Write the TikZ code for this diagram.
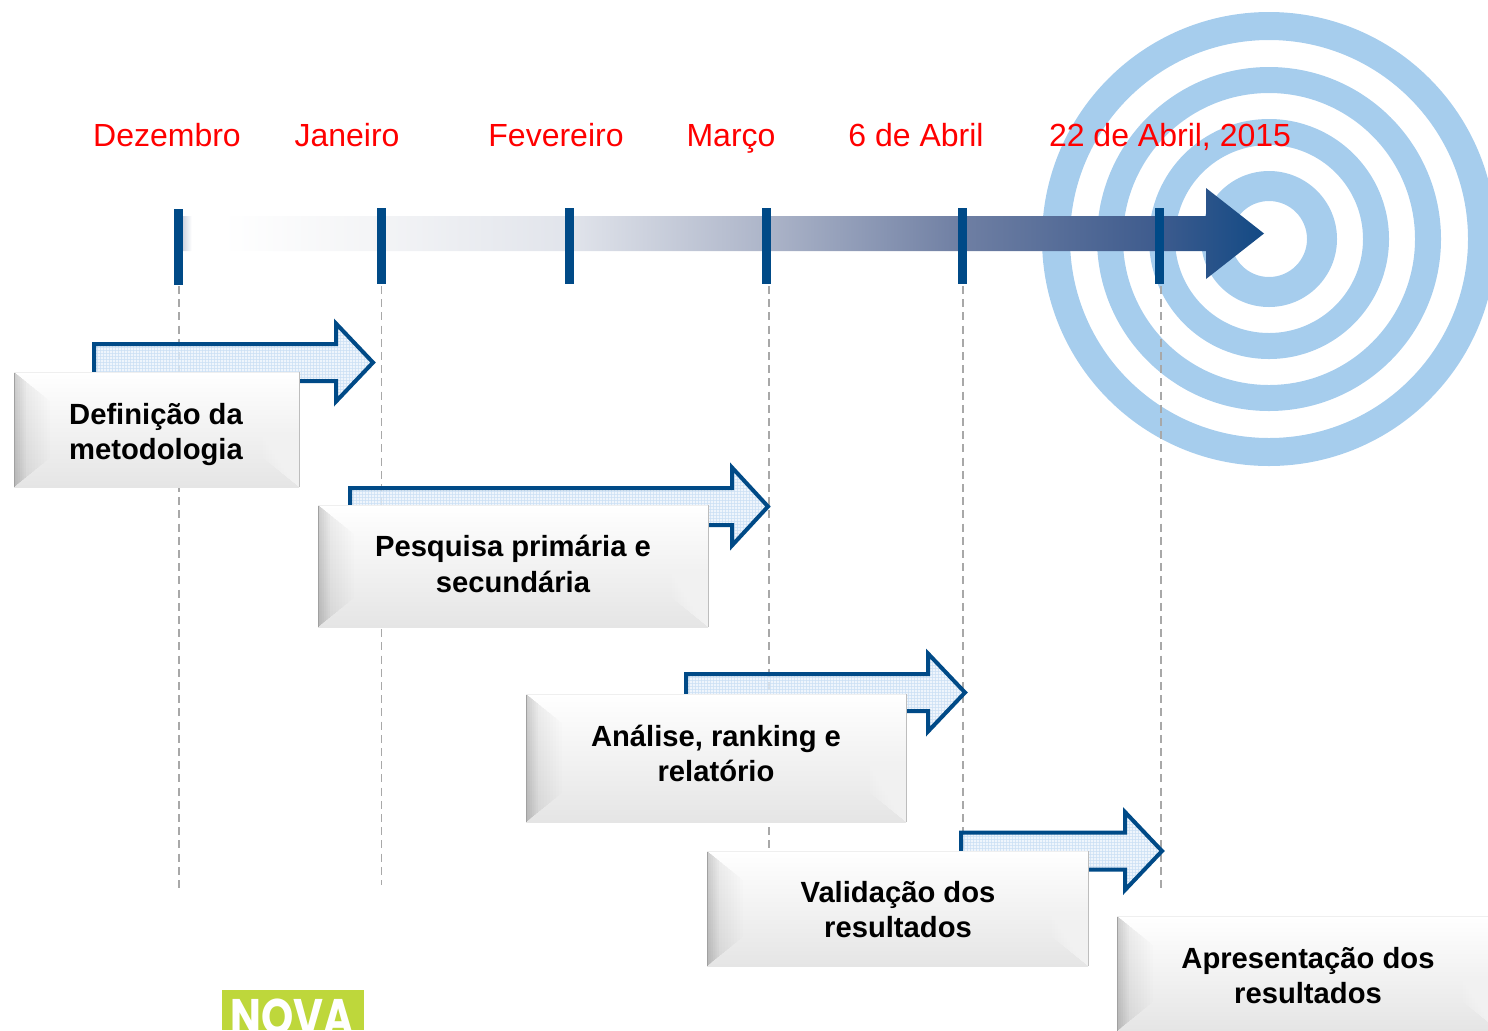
\documentclass[tikz,border=0pt]{standalone}
\usepackage{fontspec}
\setmainfont{Liberation Sans}
\newfontfamily\logofont{Poppins}
\usetikzlibrary{calc}
\definecolor{navy}{HTML}{004A87}
\definecolor{ringblue}{HTML}{A6CDED}
\definecolor{gridblue}{HTML}{CBE0F4}
\definecolor{paleblue}{HTML}{E9F2FB}
\definecolor{dashgrey}{HTML}{A8A8A8}
\definecolor{logogreen}{HTML}{BED73B}
\definecolor{fadeA}{HTML}{D0D5E0}
\definecolor{fadeB}{HTML}{F3F4F6}
\definecolor{fadeC}{HTML}{E1E4EB}
\definecolor{fadeD}{HTML}{ADB5C9}
\definecolor{fadeE}{HTML}{6F7FA3}
\definecolor{fadeF}{HTML}{3F5C8E}
\definecolor{fadeG}{HTML}{134A85}
\definecolor{gE5}{HTML}{E5E5E5}
\definecolor{gBD}{HTML}{BDBDBD}
\definecolor{gA9}{HTML}{A0A0A0}
\definecolor{gED}{HTML}{EFEFEF}
\pgfdeclarehorizontalshading{axisfade}{100bp}{
 color(0bp)=(fadeA);
 color(25bp)=(fadeA);
 color(25.4bp)=(white);
 color(26.8bp)=(white);
 color(34.1bp)=(fadeB);
 color(42.9bp)=(fadeC);
 color(51.9bp)=(fadeD);
 color(61bp)=(fadeE);
 color(69.9bp)=(fadeF);
 color(75bp)=(fadeG);
 color(100bp)=(fadeG)}
\tikzset{
 datelabel/.style={anchor=base,text=red,font=\fontsize{16}{18}\selectfont,inner sep=0pt},
 boxlabel/.style={align=center,inner sep=0pt,text=black,font=\fontsize{14.6}{17.6}\selectfont\bfseries},
 tickmark/.style={fill=navy,draw=none,inner sep=0pt,minimum width=4.5pt,minimum height=38pt},
 guide/.style={draw=dashgrey,line width=0.95pt,dash pattern=on 4pt off 2.6pt},
 ring/.style={fill=ringblue,draw=none,even odd rule},
}
% #1 left, #2 head base x, #3 tip x, #4 centre y
\newcommand{\hollowarrow}[4]{%
 \def\arrowpath{(#1,#4-18.5) -- (#2,#4-18.5) -- (#2,#4-39) -- (#3,#4) -- (#2,#4+39) -- (#2,#4+18.5) -- (#1,#4+18.5) -- cycle}%
 \begin{scope}
  \fill[paleblue,fill opacity=0.75] \arrowpath;
  \clip \arrowpath;
  \foreach \gx in {0,3,...,480} \draw[gridblue,line width=0.35pt,opacity=0.75] (#1+\gx,#4-40) -- (#1+\gx,#4+40);
  \foreach \gy in {-39,-36,...,39} \draw[gridblue,line width=0.35pt,opacity=0.75] (#1,#4+\gy) -- (#3,#4+\gy);
 \end{scope}
 \draw[navy,line width=2pt,miter limit=10] \arrowpath;
}
% #1 x1, #2 y1, #3 x2, #4 y2
\newcommand{\bevelbox}[4]{%
 \shade[top color=white,bottom color=gE5] (#1,#2) rectangle (#3,#4);
 \begin{scope}
  \clip (#1,#2) -- (#1+36,#2+29) -- (#1+36,#4-29) -- (#1,#4) -- cycle;
  \foreach \k in {1,...,12} \fill[black,fill opacity=0.009] (#1,#2) rectangle (#1+3*\k,#4);
  \foreach \k in {1,...,6} \fill[black,fill opacity=0.016] (#1,#2) rectangle (#1+2*\k,#4);
 \end{scope}
 \begin{scope}
  \clip (#3,#2) -- (#3-36,#2+29) -- (#3-36,#4-29) -- (#3,#4) -- cycle;
  \foreach \k in {1,...,12} \fill[white,fill opacity=0.07] (#3-3*\k,#2) rectangle (#3,#4);
 \end{scope}
 \draw[gA9,line width=0.45pt] (#1,#2) -- (#1,#4);
 \draw[gBD,line width=0.45pt] (#3,#2) -- (#3,#4);
 \draw[gED,line width=0.4pt] (#1,#2) -- (#3,#2);
}
\begin{document}
\begin{tikzpicture}[x=0.5pt,y=-0.5pt]
\useasboundingbox (0,0) rectangle (1488,1030);
% target
\begin{scope}
\clip (0,0) rectangle (1488,1030);
\path[ring] (1269,239) circle (227) circle (199);
\path[ring] (1269,239) circle (172) circle (146);
\path[ring] (1269,239) circle (120) circle (94);
\path[ring] (1269,239) circle (68) circle (38);
\end{scope}
% axis arrow
\shade[shading=axisfade] (183,216) -- (1206,216) -- (1206,188) -- (1264,233.5) -- (1206,279) -- (1206,251) -- (183,251) -- cycle;
% ticks
\node[tickmark] (t1) at (178.5,247) {};
\node[tickmark] (t2) at (381.5,246) {};
\node[tickmark] (t3) at (569.5,246) {};
\node[tickmark] (t4) at (766.5,246) {};
\node[tickmark] (t5) at (962.5,246) {};
\node[tickmark] (t6) at (1159.5,246) {};
% guides
\coordinate (g1a) at (179,286); \coordinate (g1b) at (179,888);
\coordinate (g2a) at (381.5,286); \coordinate (g2b) at (381.5,885);
\coordinate (g4a) at (769,286); \coordinate (g4b) at (769,852);
\coordinate (g5a) at (963,286); \coordinate (g5b) at (963,852);
\coordinate (g6a) at (1161,286); \coordinate (g6b) at (1161,889);
\draw[guide] (g1a) -- (g1b);
\draw[guide] (g2a) -- (g2b);
\draw[guide] (g4a) -- (g4b);
\draw[guide] (g5a) -- (g5b);
\draw[guide] (g6a) -- (g6b);
% dates
\node[datelabel] (d1) at (167,146) {Dezembro};
\node[datelabel] (d2) at (347,146) {Janeiro};
\node[datelabel] (d3) at (556,146) {Fevereiro};
\node[datelabel] (d4) at (731,146) {Março};
\node[datelabel] (d5) at (916,146) {6 de Abril};
\node[datelabel] (d6) at (1170,146) {22 de Abril, 2015};
% phase arrows
\hollowarrow{94}{336}{373}{362.5}
\hollowarrow{350}{732}{768}{506.5}
\hollowarrow{686}{928}{965}{692.5}
\hollowarrow{961}{1125}{1162}{851}
% boxes
\bevelbox{14}{372}{299}{487}
\node[boxlabel] (b1) at (156,434.5) {Definição da\\metodologia};
\bevelbox{318}{505}{708}{627}
\node[boxlabel] (b2) at (513,564) {Pesquisa primária e\\secundária};
\bevelbox{526}{694}{906}{822}
\node[boxlabel] (b3) at (716,753.5) {Análise, ranking e\\relatório};
\bevelbox{707}{851}{1088}{966}
\node[boxlabel] (b4) at (898,909.5) {Validação dos\\resultados};
\begin{scope}
\clip (0,0) rectangle (1488,1030);
\bevelbox{1117}{916}{1499}{1031}
\end{scope}
\node[boxlabel] (b5) at (1308,975.5) {Apresentação dos\\resultados};
% logo
\begin{scope}
\clip (222,990) rectangle (364,1030);
\fill[logogreen] (222,990) rectangle (364,1030);
\node[anchor=base,inner sep=0pt,text=white,font=\fontsize{25}{25}\logofont\bfseries,xscale=0.82] (logo) at (292,1034) {NOVA};
\end{scope}
\end{tikzpicture}
\end{document}
